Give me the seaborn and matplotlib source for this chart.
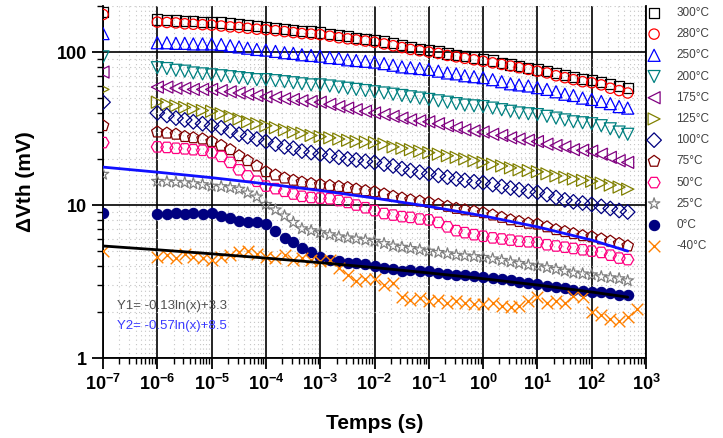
import pandas as pd
import matplotlib
matplotlib.use("Agg")
import matplotlib.pyplot as plt
import seaborn as sns
from matplotlib.ticker import LogLocator, NullFormatter

# temps de mesure (s) : 1e-7 puis 6 points par décade
decades = [-6, -5, -4, -3, -2, -1, 0, 1, 2]
mantisses = [1, 1.5, 2.2, 3.2, 4.6, 6.8]
temps = [1e-7] + [m * 10.0 ** d for d in decades for m in mantisses]

labels = ["300°C", "280°C", "250°C", "200°C", "175°C", "125°C",
          "100°C", "75°C", "50°C", "25°C", "0°C", "-40°C"]
couleurs = ["#000000", "#ff0000", "#0000ff", "#008080", "#800080", "#808000",
            "#000080", "#800000", "#ff0080", "#808080", "#000080", "#ff8000"]
marqueurs = ["s", "o", "^", "v", "<", ">", "D", "p", "H", "*", "o", "x"]

# Delta Vth (mV)
v300 = [183,
        163, 162, 161, 160, 159, 158, 158, 156, 154, 152, 150, 148,
        146, 144, 142, 140, 138, 136, 134, 131, 129, 127, 124, 122,
        120, 117, 114, 111, 108, 105, 103, 101, 98, 96, 94, 92,
        90, 88, 85, 83, 81, 79, 77, 75, 73, 71, 69, 67,
        66, 64, 62, 60, 58, None]
v280 = [176,
        157, 156, 155, 153, 152, 151, 150, 148, 146, 145, 143, 141,
        140, 138, 136, 134, 132, 131, 130, 127, 124, 122, 120, 118,
        116, 113, 110, 107, 104, 102, 100, 98, 95, 93, 91, 89,
        87, 85, 83, 81, 79, 77, 75, 73, 70, 68, 66, 64,
        63, 61, 58, 56, 54, None]
v250 = [132,
        115, 115, 114, 114, 113, 113, 113, 112, 110, 108, 106, 104,
        103, 101, 99, 98, 96, 95, 94, 92, 91, 89, 88, 87,
        86, 84, 82, 80, 79, 78, 77, 75, 73, 72, 70, 69,
        68, 66, 64, 62, 61, 60, 58.5, 57, 55, 53, 52, 50,
        49, 47.5, 46, 44, 43, None]
v200 = [93,
        79, 78, 76, 75, 73, 72, 71, 70, 69, 68, 67, 66,
        66, 65, 64, 63, 62, 61, 61, 60, 59, 58, 57, 56,
        55, 54, 53, 52, 51, 50, 49, 48, 47, 46, 45, 44.5,
        44, 43, 42, 41, 40, 39.5, 39, 38, 37, 36, 35, 34.5,
        34, 33, 31.5, 30, 29, None]
v175 = [74,
        59, 59, 58, 58, 57, 57, 57, 56, 55, 54, 53, 52,
        51, 50.5, 49.5, 49, 48, 47.5, 47, 45.5, 44, 43, 42, 41,
        40, 39, 38, 37, 36, 35.5, 35, 34, 33, 32, 31, 30.5,
        30, 29, 28.5, 27.5, 27, 26.5, 26, 25, 24.5, 24, 23, 22.8,
        22.5, 21.5, 20.5, 19.5, 19, None]
v125 = [57,
        47, 45.5, 44.5, 43.5, 42.5, 41.5, 41, 39.5, 38, 36.5, 35, 34,
        33, 32, 31, 30, 29.5, 28.5, 28, 27.5, 27, 26.5, 26, 25.8,
        25.6, 25, 24, 23.5, 23, 22.5, 22, 21.5, 21, 20.5, 20, 19.5,
        19, 18.5, 18, 17.5, 17, 16.8, 16.5, 16, 15.5, 15.2, 14.8, 14.5,
        14.3, 13.9, 13.5, 13.1, 12.7, None]
v100 = [47,
        40, 38.5, 37, 36, 35, 34, 33, 32, 30.5, 29, 28, 27,
        26, 25, 24, 23.5, 22.5, 22, 21.5, 21, 20.5, 20, 19.7, 19.3,
        19, 18.5, 18, 17.3, 16.8, 16.4, 16, 15.6, 15.2, 14.8, 14.5, 14.2,
        14, 13.6, 13.2, 12.9, 12.6, 12.3, 12.1, 11.7, 11.2, 10.8, 10.5, 10.3,
        10.1, 9.8, 9.5, 9.2, 9.0, None]
v75 = [33,
       30, 29.5, 29, 28, 27.5, 27, 26, 24.5, 23, 21, 19.5, 18,
       16.5, 15.7, 15, 14.5, 14.1, 13.8, 13.6, 13.4, 13.2, 13, 12.7, 12.4,
       12.2, 11.8, 11.4, 11.1, 10.8, 10.6, 10.4, 10.1, 9.8, 9.5, 9.3, 9.1,
       8.9, 8.6, 8.3, 8.0, 7.8, 7.6, 7.5, 7.2, 6.9, 6.7, 6.5, 6.3,
       6.2, 6.0, 5.8, 5.6, 5.4, None]
v50 = [25.6,
       24, 23.8, 23.5, 23.3, 23, 22.8, 22, 20.8, 19, 17, 15.5, 14.3,
       13.3, 12.8, 12.3, 11.8, 11.4, 11.2, 11.1, 11, 10.7, 10.4, 10, 9.6,
       9.2, 8.8, 8.6, 8.4, 8.3, 8.1, 8.0, 7.7, 7.2, 6.8, 6.6, 6.4,
       6.25, 6.1, 6.0, 5.9, 5.8, 5.75, 5.7, 5.5, 5.4, 5.3, 5.2, 5.1,
       5.0, 4.9, 4.7, 4.5, 4.4, None]
v25 = [15.9,
       14.3, 14.2, 14.1, 14, 13.8, 13.6, 13.3, 13.2, 13, 12.7, 12, 11.3,
       10.1, 9.3, 8.5, 7.7, 7.0, 6.8, 6.6, 6.4, 6.2, 6.1, 6.0, 5.9,
       5.8, 5.6, 5.4, 5.3, 5.2, 5.1, 5.0, 4.9, 4.8, 4.7, 4.65, 4.6,
       4.55, 4.45, 4.35, 4.25, 4.15, 4.05, 4.0, 3.9, 3.8, 3.7, 3.6, 3.55,
       3.5, 3.4, 3.35, 3.3, 3.2, None]
v0 = [8.9,
      8.8, 8.8, 8.9, 8.8, 8.9, 8.8, 8.9, 8.5, 8.2, 7.9, 7.8, 7.7,
      7.5, 6.8, 6.1, 5.7, 5.2, 4.9, 4.6, 4.4, 4.3, 4.2, 4.15, 4.1,
      4.0, 3.9, 3.8, 3.7, 3.75, 3.7, 3.7, 3.6, 3.55, 3.5, 3.5, 3.45,
      3.4, 3.35, 3.3, 3.25, 3.15, 3.1, 3.05, 2.95, 2.9, 2.85, 2.8, 2.75,
      2.7, 2.7, 2.65, 2.6, 2.6, None]
vm40 = [5.0,
        4.6, 4.7, 4.5, 4.8, 4.6, 4.5, 4.4, 4.6, 4.7, 4.9, 5.0, 4.8,
        4.6, 4.5, 4.7, 4.4, 4.5, 4.4, 4.3, 4.4, 3.9, 3.5, 3.2, 3.3,
        3.3, 3.0, 3.1, 2.5, 2.4, 2.45, 2.35, 2.4, 2.3, 2.35, 2.3, 2.25,
        2.25, 2.3, 2.2, 2.15, 2.2, 2.35, 2.5, 2.3, 2.35, 2.3, 2.55, 2.5,
        2.0, 1.9, 1.8, 1.75, 1.85, 2.1]
series = [v300, v280, v250, v200, v175, v125, v100, v75, v50, v25, v0, vm40]

# droites d'ajustement Y1 et Y2
temps_fit = [1e-7, 1e-6, 1e-5, 1e-4, 1e-3, 1e-2, 1e-1, 1, 10, 100, 460]
y1_fit = [5.40, 5.10, 4.80, 4.50, 4.20, 3.90, 3.60, 3.30, 3.00, 2.70, 2.50]
y2_fit = [17.7, 16.4, 15.1, 13.75, 12.45, 11.1, 9.8, 8.5, 7.2, 5.9, 5.0]

exposants_x = [-7, -6, -5, -4, -3, -2, -1, 0, 1, 2, 3]
ticks_y = [1, 10, 100]

rows = []
for nom, vals in zip(labels, series):
    for t, v in zip(temps, vals):
        if v is not None:
            rows.append((t, v, nom))
df = pd.DataFrame(rows, columns=["temps", "dvth", "serie"])

sns.set_style("ticks")
plt.rcParams["font.family"] = ["Liberation Sans", "DejaVu Sans"]
plt.rcParams["mathtext.fontset"] = "custom"
plt.rcParams["mathtext.bf"] = "Liberation Sans:bold"
plt.rcParams["mathtext.rm"] = "Liberation Sans"
for k in ["text.color", "axes.labelcolor", "xtick.color", "ytick.color"]:
    plt.rcParams[k] = "black"

fig = plt.figure(figsize=(7.23, 4.38), dpi=100)
ax = fig.add_axes([0.1425, 0.1826, 0.751, 0.8037])

for nom, c, m in zip(labels, couleurs, marqueurs):
    d = df[df["serie"] == nom]
    if m == "x":
        sns.scatterplot(data=d, x="temps", y="dvth", ax=ax, marker=m, s=70,
                        color=c, linewidth=1.0, label=nom, zorder=3)
    elif nom == "0°C":
        sns.scatterplot(data=d, x="temps", y="dvth", ax=ax, marker=m, s=55,
                        color=c, edgecolor=c, linewidth=0.8, label=nom, zorder=3)
    else:
        taille = 75 if m in ("^", "v", "<", ">", "*", "p", "H") else 55
        sns.scatterplot(data=d, x="temps", y="dvth", ax=ax, marker=m, s=taille,
                        facecolor="none", edgecolor=c, linewidth=0.9,
                        label=nom, zorder=3)

sns.lineplot(x=temps_fit, y=y1_fit, ax=ax, color="black", lw=2, zorder=4)
sns.lineplot(x=temps_fit, y=y2_fit, ax=ax, color="#1010ff", lw=2, zorder=4)

ax.set_xscale("log")
ax.set_yscale("log")
ax.set_xlim(1e-7, 1e3)
ax.set_ylim(1, 200)

ax.set_xticks([10.0 ** e for e in exposants_x])
ax.set_xticklabels([r"$\mathbf{10^{%d}}$" % e for e in exposants_x], fontsize=13)
ax.xaxis.set_minor_locator(LogLocator(base=10, subs=range(2, 10), numticks=100))
ax.xaxis.set_minor_formatter(NullFormatter())
ax.set_yticks(ticks_y)
ax.set_yticklabels([str(v) for v in ticks_y], fontsize=13, fontweight="bold")
ax.yaxis.set_minor_locator(LogLocator(base=10, subs=range(2, 10), numticks=100))
ax.yaxis.set_minor_formatter(NullFormatter())

ax.tick_params(which="major", direction="out", length=8, width=1.3, color="black")
ax.tick_params(which="minor", direction="out", length=4, width=1.0, color="black")
ax.grid(which="major", color="black", lw=1.2)
ax.grid(which="minor", color="#c4c4c4", lw=0.8, ls=(0, (1, 3)))
ax.set_axisbelow(True)
for s in ["left", "bottom", "right"]:
    ax.spines[s].set_linewidth(1.3)
    ax.spines[s].set_color("black")
ax.spines["top"].set_visible(False)

ax.set_xlabel("Temps (s)", fontsize=15, fontweight="bold", labelpad=14)
ax.set_ylabel("ΔVth (mV)", fontsize=15, fontweight="bold", labelpad=16)

ax.text(0.026, 0.148, "Y1= -0.13ln(x)+3.3", transform=ax.transAxes,
        fontsize=9.5, color="#505050", va="center")
ax.text(0.026, 0.091, "Y2= -0.57ln(x)+8.5", transform=ax.transAxes,
        fontsize=9.5, color="#3a3aff", va="center")

h, l = ax.get_legend_handles_labels()
ax.get_legend().remove()
fig.legend(h, l, loc="upper left", bbox_to_anchor=(647 / 723, 1 - 7 / 438),
           frameon=False, fontsize=8.5, handlelength=1.2, handletextpad=1.3,
           labelspacing=0.78, borderpad=0, borderaxespad=0, labelcolor="#404040")

fig.savefig("out.png", dpi=100)
